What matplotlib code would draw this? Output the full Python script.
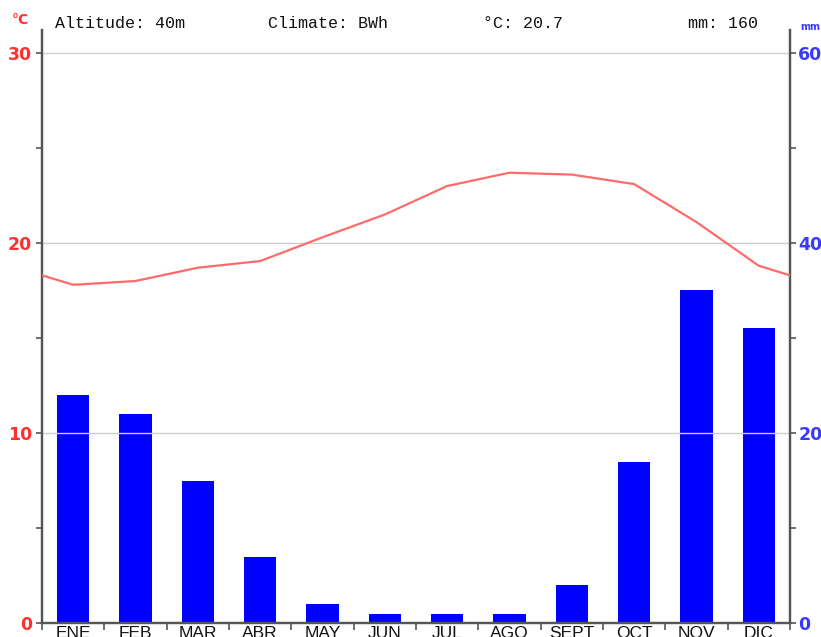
import matplotlib
matplotlib.use("Agg")
import matplotlib.pyplot as plt
import numpy as np

months = ["ENE", "FEB", "MAR", "ABR", "MAY", "JUN", "JUL", "AGO", "SEPT", "OCT", "NOV", "DIC"]
precip_mm = [24, 22, 15, 7, 2, 1, 1, 1, 4, 17, 35, 31]
temp_c = [17.8, 18.0, 18.7, 19.05, 20.3, 21.5, 23.0, 23.7, 23.6, 23.1, 21.1, 18.8]
header = ["Altitude: 40m", "Climate: BWh", "°C: 20.7", "mm: 160"]
temp_ticks = [0, 10, 20, 30]
mm_ticks = [0, 20, 40, 60]

W, H = 821, 637
fig = plt.figure(figsize=(W / 100, H / 100), dpi=100)
x0, x1 = 42, 790
ytop, ybot = 30, 623
ax = fig.add_axes([x0 / W, (H - ybot) / H, (x1 - x0) / W, (ybot - ytop) / H])
ax2 = ax.twinx()

top_c = 30 + (53 - 30) / 19.0
ax.set_xlim(0, 12)
ax.set_ylim(0, top_c)
ax2.set_ylim(0, top_c * 2)

xs = np.arange(12) + 0.5
ax2.bar(xs, precip_mm, width=0.52, color="#0000FF", zorder=2)

# temperature line with wrap-around to the edges
lx = np.concatenate([[xs[0] - 1], xs, [xs[-1] + 1]])
ly = np.concatenate([[temp_c[-1]], temp_c, [temp_c[0]]])
ax.plot(lx, ly, color="#FF6B6B", lw=1.6, zorder=3, clip_on=True)
ax.set_zorder(ax2.get_zorder() + 1)
ax.patch.set_visible(False)

for v in [10, 20, 30]:
    ax.axhline(v, color="#CCCCCC", lw=1, zorder=0)

gray = "#555555"
for a in (ax, ax2):
    a.spines["top"].set_visible(False)
    for s in ("left", "right", "bottom"):
        a.spines[s].set_color(gray)
        a.spines[s].set_linewidth(1.6)

ax.set_yticks(temp_ticks)
ax.set_yticks([5, 15, 25], minor=True)
ax.set_yticklabels([str(t) for t in temp_ticks], color="#FF3030", fontsize=12.5,
                   fontweight="semibold")
ax.tick_params(axis="y", which="major", length=4, width=1.2, color=gray, pad=3)
ax.tick_params(axis="y", which="minor", length=4, width=1.2, color=gray)

ax2.set_yticks(mm_ticks)
ax2.set_yticks([10, 30, 50], minor=True)
ax2.set_yticklabels([str(t) for t in mm_ticks], color="#3A3AFF", fontsize=12.5,
                    fontweight="semibold")
ax2.tick_params(axis="y", which="major", length=4, width=1.2, color=gray, pad=2)
ax2.tick_params(axis="y", which="minor", length=4, width=1.2, color=gray)

ax.set_xticks(np.arange(13))
ax.set_xticklabels([])
ax.set_xticks(xs, minor=True)
ax.set_xticklabels(months, minor=True, fontsize=12.5, color="#111111",
                   family="Liberation Sans")
ax.tick_params(axis="x", which="major", length=5, width=1.2, color=gray)
ax.tick_params(axis="x", which="minor", length=0, pad=2)

fig.text(20 / W, 1 - 20 / H, "°C", color="#FF3030", fontsize=10, fontweight="bold",
         ha="center", va="center")
fig.text(810 / W, 1 - 27 / H, "mm", color="#3A3AFF", fontsize=7, fontweight="bold",
         ha="center", va="center")

hx = [55, 268, 483, 758]
has = ["left", "left", "left", "right"]
for t, x, h in zip(header, hx, has):
    fig.text(x / W, 1 - 23 / H, t, fontsize=12, family="Liberation Mono",
             ha=h, va="center", color="#111111")

fig.savefig("out.png", dpi=100, facecolor="white")
